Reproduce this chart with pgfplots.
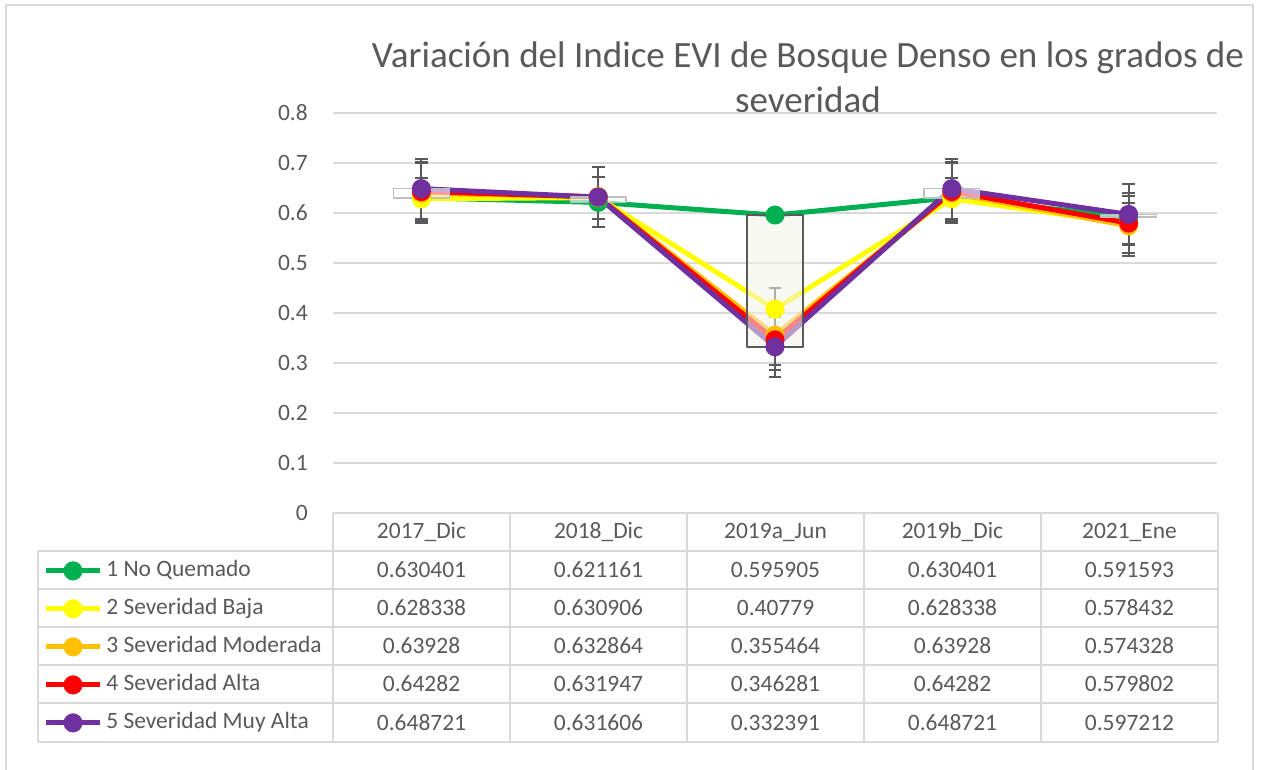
\documentclass[border=0pt]{standalone}
\usepackage{fontspec}
\setmainfont{Carlito}
\usepackage{pgfplots}
\pgfplotsset{compat=1.18}
\definecolor{txt}{HTML}{595959}
\definecolor{gridc}{HTML}{D9D9D9}
\definecolor{cNo}{HTML}{00B050}
\definecolor{cBaja}{HTML}{FFFF00}
\definecolor{cMod}{HTML}{FFC000}
\definecolor{cAlta}{HTML}{FF0000}
\definecolor{cMuy}{HTML}{7030A0}
\definecolor{downfill}{HTML}{F2F2EA}

\begin{document}
\begin{tikzpicture}[x=0.75pt,y=0.75pt]
\useasboundingbox (0,0) rectangle (1261,769);
% chart border
\draw[gridc, line width=1.1pt] (6,-5) -- (6,764) -- (1253,764) -- (1253,-5);

% title
\node[text=txt, align=center, font=\fontsize{27.8}{33.75}\selectfont] at (808,692)
  {Variación del Indice EVI de Bosque Denso en los grados de\\severidad};

\begin{axis}[
    at={(249.75pt,192pt)}, anchor=south west,
    scale only axis, width=663pt, height=300pt,
    xmin=-0.5, xmax=4.5, ymin=0, ymax=0.8,
    xtick=\empty,
    ytick={0,0.1,0.2,0.3,0.4,0.5,0.6,0.7,0.8},
    ymajorgrids,
    major grid style={gridc, line width=1.1pt},
    axis line style={draw=none},
    major tick length=0pt, tick align=inside,
    yticklabel style={font=\fontsize{17.6}{20}\selectfont, text=txt, inner sep=0pt, xshift=-18.75pt,
      /pgf/number format/fixed, /pgf/number format/precision=1,
      /pgf/number format/assume math mode=true},
    clip=false,
    every axis plot/.append style={line width=3.75pt, line join=round, mark=*, mark size=5.25pt,
      mark options={solid}},
    error bars/error bar style={txt, line width=1.5pt},
    error bars/error mark options={rotate=90, mark size=4.8pt, line width=1.5pt, txt},
    legend image code/.code={\draw[mark repeat=2, mark phase=2] plot coordinates {(0pt,0pt) (20.6pt,0pt) (41.2pt,0pt)};},
    legend cell align=left,
    legend style={at={(-0.328,-0.118)}, anchor=north west, draw=none, fill=none,
      inner sep=0pt, outer sep=0pt, row sep=12.5pt, column sep=2.5pt,
      font=\fontsize{17.6}{20}\selectfont, text=txt,
      nodes={inner sep=0pt, text height=12pt, text depth=4pt}},
]
\addplot[cNo] coordinates {(0,0.630401) (1,0.621161) (2,0.595905) (3,0.630401) (4,0.591593)};
\addlegendentry{1 No Quemado}
\addplot[cBaja, error bars/.cd, y dir=both, y explicit] coordinates {
  (0,0.628338) +- (0,0.042) (1,0.630906) +- (0,0.042) (2,0.40779) +- (0,0.042)
  (3,0.628338) +- (0,0.042) (4,0.578432) +- (0,0.042)};
\addlegendentry{2 Severidad Baja}
\addplot[cMod, error bars/.cd, y dir=both, y explicit] coordinates {
  (0,0.63928) +- (0,0.06) (1,0.632864) +- (0,0.06) (2,0.355464) +- (0,0.06)
  (3,0.63928) +- (0,0.06) (4,0.574328) +- (0,0.06)};
\addlegendentry{3 Severidad Moderada}
\addplot[cAlta, error bars/.cd, y dir=both, y explicit] coordinates {
  (0,0.64282) +- (0,0.06) (1,0.631947) +- (0,0.06) (2,0.346281) +- (0,0.06)
  (3,0.64282) +- (0,0.06) (4,0.579802) +- (0,0.06)};
\addlegendentry{4 Severidad Alta}
\addplot[cMuy, error bars/.cd, y dir=both, y explicit] coordinates {
  (0,0.648721) +- (0,0.06) (1,0.631606) +- (0,0.06) (2,0.332391) +- (0,0.06)
  (3,0.648721) +- (0,0.06) (4,0.597212) +- (0,0.06)};
\addlegendentry{5 Severidad Muy Alta}

% up/down bars between series 1 and series 5
\addplot[forget plot, mark=none, draw=black!25, line width=1.1pt, fill=white, fill opacity=0.6]
  coordinates {(-0.158,0.630401) (0.158,0.630401) (0.158,0.648721) (-0.158,0.648721)} -- cycle;
\addplot[forget plot, mark=none, draw=black!25, line width=1.1pt, fill=white, fill opacity=0.6]
  coordinates {(0.842,0.621161) (1.158,0.621161) (1.158,0.631606) (0.842,0.631606)} -- cycle;
\addplot[forget plot, mark=none, draw=txt, line width=1.3pt, fill=downfill, fill opacity=0.55]
  coordinates {(1.842,0.595905) (2.158,0.595905) (2.158,0.332391) (1.842,0.332391)} -- cycle;
\addplot[forget plot, mark=none, draw=black!25, line width=1.1pt, fill=white, fill opacity=0.6]
  coordinates {(2.842,0.630401) (3.158,0.630401) (3.158,0.648721) (2.842,0.648721)} -- cycle;
\addplot[forget plot, mark=none, draw=black!25, line width=1.1pt, fill=white, fill opacity=0.6]
  coordinates {(3.842,0.591593) (4.158,0.591593) (4.158,0.597212) (3.842,0.597212)} -- cycle;
\end{axis}

% data table grid
\begin{scope}[gridc, line width=1.1pt]
\foreach \yy in {218,180,142,104,66,27} \draw (38,\yy) -- (1218,\yy);
\draw (38,218) -- (38,27);
\foreach \xx in {333,510,687,864,1041,1218} \draw (\xx,256) -- (\xx,27);
\end{scope}

% data table text
\begin{scope}[every node/.style={text=txt, font=\fontsize{17.6}{20}\selectfont, inner sep=0pt}]
\foreach \lab [count=\i from 0] in {2017\_Dic,2018\_Dic,2019a\_Jun,2019b\_Dic,2021\_Ene}
  \node at (421.5+177*\i,237) {\lab};
\foreach \v [count=\i from 0] in {0.630401,0.621161,0.595905,0.630401,0.591593}
  \node at (421.5+177*\i,199) {\v};
\foreach \v [count=\i from 0] in {0.628338,0.630906,0.40779,0.628338,0.578432}
  \node at (421.5+177*\i,161) {\v};
\foreach \v [count=\i from 0] in {0.63928,0.632864,0.355464,0.63928,0.574328}
  \node at (421.5+177*\i,123) {\v};
\foreach \v [count=\i from 0] in {0.64282,0.631947,0.346281,0.64282,0.579802}
  \node at (421.5+177*\i,85) {\v};
\foreach \v [count=\i from 0] in {0.648721,0.631606,0.332391,0.648721,0.597212}
  \node at (421.5+177*\i,46.5) {\v};
\end{scope}
\end{tikzpicture}
\end{document}
